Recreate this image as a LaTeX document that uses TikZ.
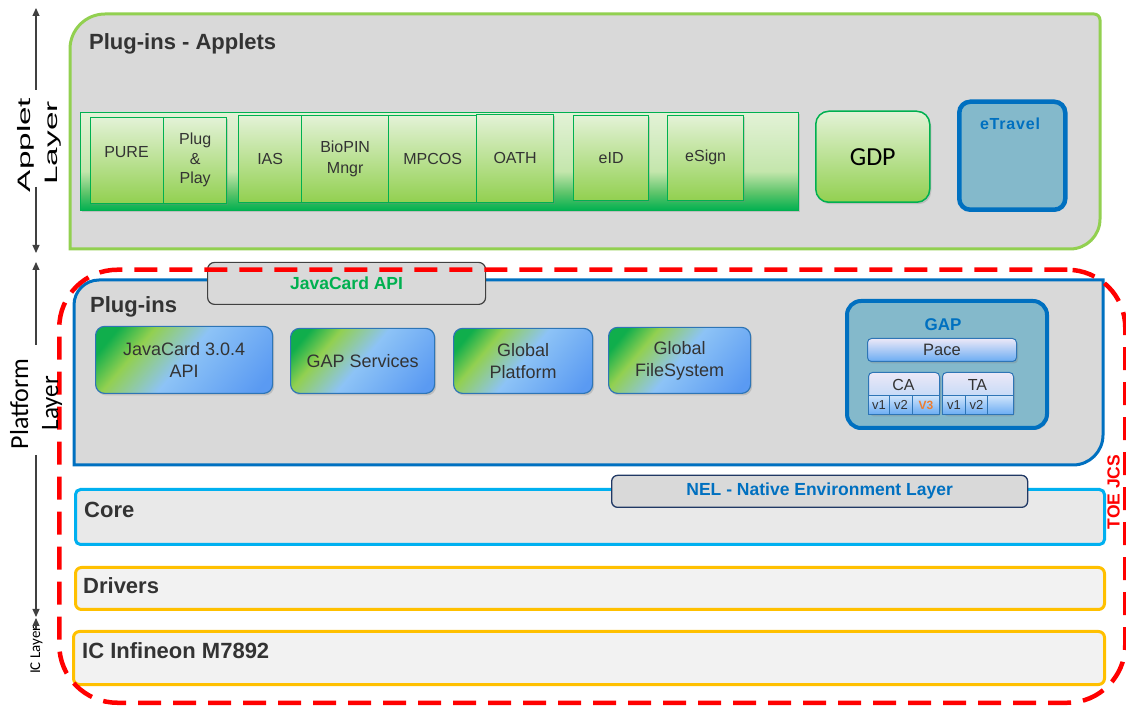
\documentclass[tikz,border=0pt]{standalone}
\usepackage{fontspec}
\setmainfont{Liberation Sans}
\newfontfamily\carlito{Carlito}
\usetikzlibrary{arrows.meta,shadows}

\definecolor{gfill}{HTML}{D9D9D9}
\definecolor{appgreen}{HTML}{92D050}
\definecolor{dkgreen}{HTML}{00B050}
\definecolor{platblue}{HTML}{0070C0}
\definecolor{boxblue}{HTML}{2E75B6}
\definecolor{coreblue}{HTML}{00B0F0}
\definecolor{gold}{HTML}{FFC000}
\definecolor{steel}{HTML}{84B9CB}
\definecolor{txt}{HTML}{333333}
\definecolor{corefill}{HTML}{E9E9E9}
\definecolor{lowfill}{HTML}{F2F2F2}
\definecolor{navy}{HTML}{203864}
\definecolor{orng}{HTML}{ED7D31}
\definecolor{arrowgray}{HTML}{404040}
\definecolor{sg1}{HTML}{00B050}
\definecolor{sg2}{HTML}{5CC46A}
\definecolor{sg3}{HTML}{C4E6AC}
\definecolor{sg4}{HTML}{E3F2D7}
\definecolor{pg1}{HTML}{10AE4C}
\definecolor{pg2}{HTML}{92D050}
\definecolor{pg3}{HTML}{8DC3F6}
\definecolor{pg4}{HTML}{5A9AF2}
\definecolor{lav}{HTML}{ECE8F7}
\definecolor{gb2}{HTML}{6AACF3}
\definecolor{gb3}{HTML}{A9D0F7}
\definecolor{gb4}{HTML}{CFE4FB}

\pgfdeclareverticalshading{stripsh}{100bp}{color(0bp)=(sg1); color(25bp)=(sg1); color(34bp)=(sg2); color(45bp)=(sg3); color(75bp)=(sg4); color(100bp)=(sg4)}
\pgfdeclarehorizontalshading{plugsh}{100bp}{color(0bp)=(pg1); color(22bp)=(pg1); color(33bp)=(pg2); color(50bp)=(pg3); color(80bp)=(pg4); color(100bp)=(pg4)}

\tikzset{
  shad/.style={drop shadow={shadow xshift=1.5pt,shadow yshift=-2pt,opacity=0.3}},
  ttl/.style={font=\fontsize{22}{26}\selectfont\bfseries, text=txt, inner sep=0, anchor=base west},
  abox/.style={draw=dkgreen, line width=1.3pt, top color=sg4, bottom color=pg2, anchor=south west, inner sep=0, align=center, text=txt, font=\fontsize{16}{20}\selectfont, shad},
  pbox/.style={shade, shading=plugsh, shading angle=-40, draw=boxblue, line width=1.2pt, rounded corners=9pt, anchor=south west, inner sep=0, align=center, text=txt, font=\fontsize{18}{22}\selectfont, shad},
  gbox/.style={draw=boxblue, line width=1pt, rounded corners=4pt, top color=lav, bottom color=gb2, anchor=south west, inner sep=0, text=txt, font=\fontsize{16.5}{18}\selectfont, shad},
  cell/.style={draw=boxblue, line width=0.8pt, top color=gb4, bottom color=gb2, anchor=south west, inner sep=0, minimum height=19pt, text=txt, font=\fontsize{13}{15}\selectfont},
  layerbox/.style={line width=3pt, anchor=south west, inner sep=0},
  axarrow/.style={draw=arrowgray, line width=1.1pt, -{Triangle[length=8pt,width=7pt]}},
  sidelbl/.style={rotate=90, anchor=base, inner sep=0, text=black},
}

\begin{document}
\begin{tikzpicture}[x=1pt,y=1pt]
\useasboundingbox (0,0) rectangle (1126,709);

% ---------- Applet layer ----------
\draw[line width=3pt, draw=appgreen, fill=gfill]
  (70,460) -- (70,660) arc[start angle=180,end angle=90,radius=35]
  -- (1094,695) arc[start angle=90,end angle=0,radius=6]
  -- (1100,490) arc[start angle=0,end angle=-90,radius=30] -- cycle;
\node[ttl] (apptitle) at (89,659) {Plug-ins - Applets};

\node[shade, shading=stripsh, draw=dkgreen, line width=1.2pt, minimum width=718pt, minimum height=98pt, anchor=south west, inner sep=0, shad] (strip) at (80,498) {};

\node[abox, minimum width=73pt, minimum height=86pt] (pure) at (90,505) {};
\node[inner sep=0, text=txt, font=\fontsize{16}{20}\selectfont] (puret) at (126.5,557) {PURE};
\node[abox, minimum width=63pt, minimum height=86pt, font=\fontsize{16}{19.5}\selectfont] (plug) at (163,505) {Plug\\\&\\Play};
\node[abox, minimum width=63pt, minimum height=87pt] (ias) at (238,506) {IAS};
\node[abox, minimum width=87pt, minimum height=87pt, font=\fontsize{16}{21}\selectfont] (bio) at (301,506) {BioPIN\\Mngr};
\node[abox, minimum width=88pt, minimum height=87pt] (mpcos) at (388,506) {MPCOS};
\node[abox, minimum width=77pt, minimum height=88pt] (oath) at (476,506) {OATH};
\node[abox, minimum width=75pt, minimum height=85pt] (eid) at (573,508) {eID};
\node[abox, minimum width=76pt, minimum height=85pt] (esign) at (667,508) {eSign};

\node[abox, rounded corners=13pt, line width=1.5pt, minimum width=114pt, minimum height=91pt, font=\carlito\fontsize{26}{30}\selectfont, text=black] (gdp) at (815,506) {GDP};

\node[draw=platblue, line width=4.5pt, fill=steel, rounded corners=11pt, minimum width=106pt, minimum height=108pt, anchor=south west, inner sep=0] (etravel) at (957,497) {};
\node[inner sep=0, text=platblue, font=\fontsize{16}{18}\selectfont\bfseries\addfontfeature{LetterSpace=5}] (etravelt) at (1010,585) {eTravel};

% ---------- Platform layer ----------
\draw[line width=3pt, draw=platblue, fill=gfill]
  (74,244) -- (74,404) arc[start angle=180,end angle=90,radius=25]
  -- (1103,429) -- (1103,274) arc[start angle=0,end angle=-90,radius=30] -- cycle;
\node[ttl] (plattitle) at (90,396) {Plug-ins};

\node[draw=arrowgray, line width=1.2pt, fill=gfill, rounded corners=7pt, minimum width=278pt, minimum height=42pt, anchor=south west, inner sep=0, font=\fontsize{17.5}{20}\selectfont\bfseries, text=dkgreen] (jcapi) at (207,404) {JavaCard API};

\node[pbox, minimum width=177pt, minimum height=67pt] (jc304) at (95,315) {JavaCard 3.0.4\\API};
\node[pbox, minimum width=144pt, minimum height=65pt] (gaps) at (290,315) {GAP Services};
\node[pbox, minimum width=139pt, minimum height=65pt] (gp) at (453,315) {Global\\Platform};
\node[pbox, minimum width=142pt, minimum height=66pt] (gfs) at (608,315) {Global\\FileSystem};

\node[draw=platblue, line width=4pt, fill=steel, rounded corners=14pt, minimum width=200pt, minimum height=127pt, anchor=south west, inner sep=0, shad] (gap) at (845,279) {};
\node[inner sep=0, text=platblue, font=\fontsize{17}{20}\selectfont\bfseries] (gapt) at (943,384) {GAP};
\node[gbox, minimum width=149pt, minimum height=23pt] (pace) at (867,347) {Pace};

\node[gbox, bottom color=gb3, minimum width=71pt, minimum height=42pt] (cahead) at (868,294) {};
\node[inner sep=0, text=txt, font=\fontsize{16}{18}\selectfont] (cat) at (903.5,324) {CA};
\node[cell, minimum width=21pt] (cav1) at (868,294) {v1};
\node[cell, minimum width=23pt] (cav2) at (889,294) {v2};
\node[cell, minimum width=27pt, text=orng, font=\fontsize{12}{14}\selectfont\bfseries] (cav3) at (912,294) {V3};

\node[gbox, bottom color=gb3, minimum width=71pt, minimum height=42pt] (tahead) at (942,294) {};
\node[inner sep=0, text=txt, font=\fontsize{16}{18}\selectfont] (tat) at (977.5,324) {TA};
\node[cell, minimum width=23pt] (tav1) at (942,294) {v1};
\node[cell, minimum width=22pt] (tav2) at (965,294) {v2};
\node[cell, minimum width=26pt] (tav3) at (987,294) {};

% ---------- Core, drivers, IC ----------
\node[layerbox, draw=coreblue, fill=corefill, rounded corners=5pt, minimum width=1029pt, minimum height=55pt] (core) at (74,163) {};
\node[ttl] (coret) at (84,191) {Core};
\node[draw=navy, line width=1.3pt, fill=gfill, rounded corners=6pt, minimum width=416pt, minimum height=32pt, anchor=south west, inner sep=0, font=\fontsize{17.5}{20}\selectfont\bfseries, text=platblue] (nel) at (611,201) {NEL - Native Environment Layer};

\node[layerbox, draw=gold, fill=lowfill, rounded corners=6pt, minimum width=1029pt, minimum height=42pt] (drivers) at (74,98) {};
\node[ttl] (driverst) at (83,115) {Drivers};
\node[layerbox, draw=gold, fill=lowfill, rounded corners=6pt, minimum width=1031pt, minimum height=53pt] (ic) at (72,23) {};
\node[ttl] (ict) at (82,50) {IC Infineon M7892};

% ---------- TOE JCS dashed outline ----------
\node[draw=red, line width=4.5pt, dash pattern=on 23pt off 12pt, rounded corners=58pt, minimum width=1066pt, minimum height=433pt, anchor=south west, inner sep=0] (toe) at (57,4) {};
\node[rotate=90, inner sep=0, text=red, font=\fontsize{17.5}{20}\selectfont\bfseries] (toet) at (1113.5,217) {TOE JCS};

% ---------- Left axis ----------
\node[sidelbl, font=\fontsize{18}{20}\selectfont] (applbl1) at (30,564) {\scalebox{1.85}[1]{Applet}};
\node[sidelbl, font=\fontsize{18}{20}\selectfont] (applbl2) at (57,566) {\scalebox{1.85}[1]{Layer}};
\node[sidelbl, font=\carlito\fontsize{26}{30}\selectfont] (platlbl1) at (28,305) {Platform};
\node[sidelbl, font=\carlito\fontsize{25}{30}\selectfont] (platlbl2) at (58,306) {Layer};
\node[sidelbl, font=\carlito\fontsize{15}{18}\selectfont] (iclbl) at (40,59) {IC Layer};

\coordinate (ax1a) at (36,619); \coordinate (ax1b) at (36,701);
\coordinate (ax2a) at (36,522); \coordinate (ax2b) at (36,456);
\coordinate (ax3a) at (36,364); \coordinate (ax3b) at (36,447);
\coordinate (ax4a) at (36,254); \coordinate (ax4b) at (36,92);
\coordinate (ax5a) at (36,80);  \coordinate (ax5b) at (36,91);
\draw[axarrow] (ax1a) -- (ax1b);
\draw[axarrow] (ax2a) -- (ax2b);
\draw[axarrow] (ax3a) -- (ax3b);
\draw[axarrow] (ax4a) -- (ax4b);
\draw[axarrow] (ax5a) -- (ax5b);
\end{tikzpicture}
\end{document}
